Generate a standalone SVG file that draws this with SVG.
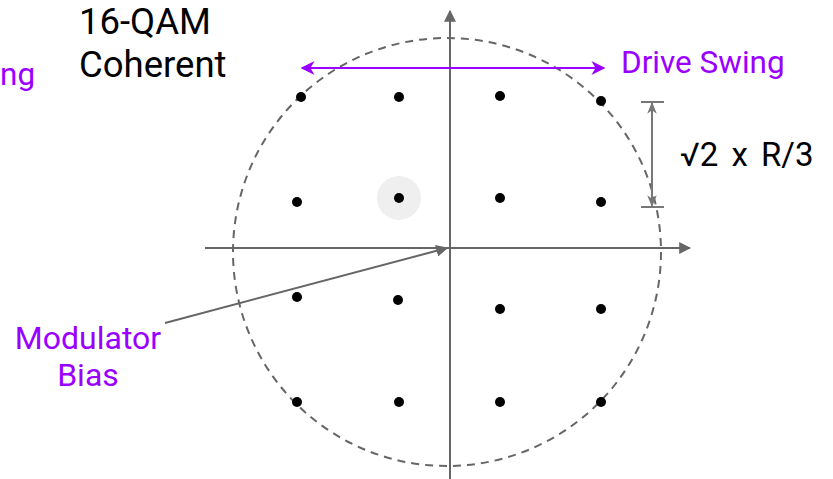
<svg xmlns="http://www.w3.org/2000/svg" width="833" height="479" viewBox="0 0 833 479">
<style>
.ax{stroke:#666;stroke-width:2;fill:none}
.dot{fill:#000}
.lbl{font-family:Roboto,"Liberation Sans",sans-serif;font-size:31.5px}
.purple{fill:#9900ff}
.blk{fill:#000}
</style>
<defs>
<marker id="tri" viewBox="0 0 10 10" refX="9" refY="5" markerWidth="6" markerHeight="6" markerUnits="strokeWidth" orient="auto-start-reverse">
<path d="M0,0 L10,5 L0,10 z" fill="#666"/>
</marker>
<marker id="pst" viewBox="0 0 10 10" refX="9" refY="5" markerWidth="7" markerHeight="7" markerUnits="strokeWidth" orient="auto-start-reverse">
<path d="M0,0 L10,5 L0,10 L3,5 z" fill="#9900ff"/>
</marker>
<marker id="gst" viewBox="0 0 10 10" refX="9" refY="5" markerWidth="6" markerHeight="6" markerUnits="strokeWidth" orient="auto-start-reverse">
<path d="M0,1 L10,5 L0,9 L3,5 z" fill="#777"/>
</marker>
</defs>
<rect width="833" height="479" fill="#fff"/>
<circle cx="447" cy="252" r="214" fill="none" stroke="#666" stroke-width="2" stroke-dasharray="8,6"/>
<g id="connectors">
<line class="ax" x1="450" y1="479" x2="450" y2="11" marker-end="url(#tri)"/>
<line class="ax" x1="205" y1="248" x2="690" y2="248" marker-end="url(#tri)"/>
<line x1="302" y1="68" x2="604" y2="68" stroke="#9900ff" stroke-width="2" marker-start="url(#pst)" marker-end="url(#pst)"/>
<line x1="652" y1="103" x2="652" y2="206" stroke="#777" stroke-width="2" marker-start="url(#gst)" marker-end="url(#gst)"/>
<line x1="641" y1="102" x2="664" y2="102" stroke="#777" stroke-width="2"/>
<line x1="641" y1="207" x2="664" y2="207" stroke="#777" stroke-width="2"/>
<line x1="165" y1="323" x2="447" y2="248" stroke="#666" stroke-width="2" marker-end="url(#tri)"/>
</g>
<g id="highlight"><circle cx="399" cy="198" r="22" fill="#efefef"/></g>
<g id="points">
<circle class="dot" cx="301" cy="97" r="5"/>
<circle class="dot" cx="399" cy="97" r="5"/>
<circle class="dot" cx="500" cy="96" r="5"/>
<circle class="dot" cx="601" cy="101" r="5"/>
<circle class="dot" cx="297" cy="202" r="5"/>
<circle class="dot" cx="399" cy="198" r="5"/>
<circle class="dot" cx="500" cy="198" r="5"/>
<circle class="dot" cx="601" cy="202" r="5"/>
<circle class="dot" cx="297" cy="297" r="5"/>
<circle class="dot" cx="398" cy="300" r="5"/>
<circle class="dot" cx="500" cy="309" r="5"/>
<circle class="dot" cx="601" cy="309" r="5"/>
<circle class="dot" cx="297" cy="402" r="5"/>
<circle class="dot" cx="399" cy="402" r="5"/>
<circle class="dot" cx="500" cy="402" r="5"/>
<circle class="dot" cx="601" cy="402" r="5"/>
</g>
<g id="title"><text class="lbl blk" x="79" y="34" style="font-size:36.5px">16-QAM</text><text class="lbl blk" x="79" y="77" style="font-size:36.5px">Coherent</text></g>
<g id="ng"><text class="lbl purple" x="0" y="85">ng</text></g>
<g id="drive-swing"><text class="lbl purple" x="621" y="73">Drive Swing</text></g>
<g id="dim-label"><text class="lbl blk" x="680" y="166" style="font-size:33px;word-spacing:5px">√2 x R/3</text></g>
<g id="mod-bias"><text class="lbl purple" x="88" y="349" text-anchor="middle" style="font-size:32px">Modulator</text><text class="lbl purple" x="88" y="386" text-anchor="middle" style="font-size:32px">Bias</text></g>
</svg>
